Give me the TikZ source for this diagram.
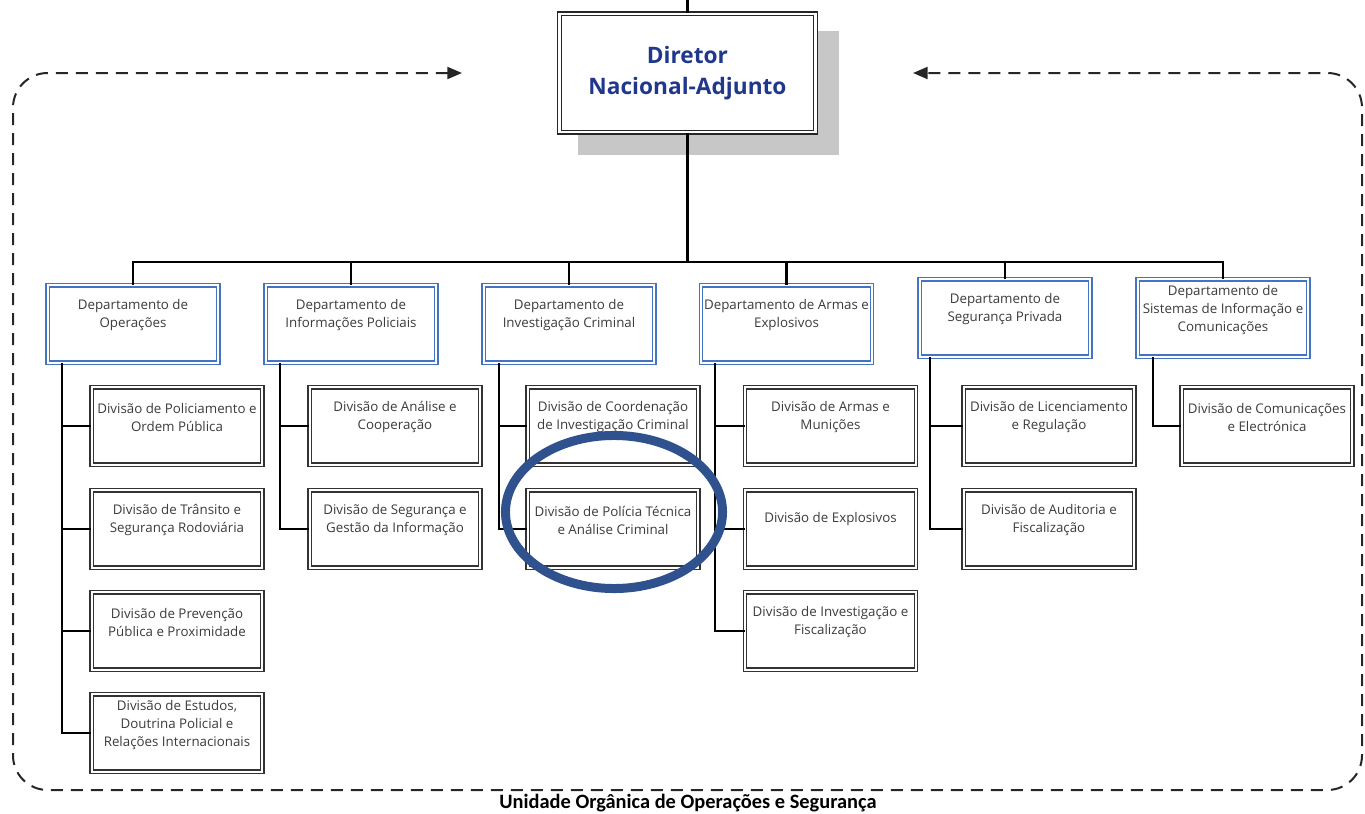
\documentclass[tikz,border=0pt]{standalone}
\usepackage{fontspec}
\setmainfont{Open Sans}
\newfontfamily\capfont{Carlito}
\usetikzlibrary{arrows.meta}

\definecolor{deptblue}{RGB}{68,114,196}
\definecolor{dirblue}{RGB}{32,56,140}
\definecolor{ringblue}{RGB}{47,82,143}
\definecolor{boxtext}{RGB}{60,60,60}

\tikzset{
  dirbox/.style={draw=black!85, double=white, double distance=1.6pt, line width=1.1pt,
    fill=white, minimum width=192pt, minimum height=89pt, inner sep=0pt, align=center,
    text=dirblue, font=\bfseries\fontsize{17}{23}\selectfont},
  deptbox/.style={draw=deptblue, double=white, double distance=1.5pt, line width=0.9pt,
    fill=white, minimum width=128pt, minimum height=58pt, inner sep=0pt},
  divbox/.style={draw=black!80, double=white, double distance=1.5pt, line width=0.9pt,
    fill=white, minimum width=128pt, minimum height=58pt, inner sep=0pt},
  boxtxt/.style={align=center, inner sep=0pt, text=boxtext,
    font=\fontsize{10}{13.5}\selectfont},
  link/.style={draw=black, line width=1.6pt},
  unitline/.style={draw=black!85, line width=1.5pt, dash pattern=on 9pt off 6pt,
    rounded corners=26pt, <->, >={Triangle[length=11pt,width=9pt]}},
  ring/.style={draw=ringblue, line width=6.75pt}
}

\begin{document}
\begin{tikzpicture}[x=0.75pt,y=-0.75pt]
  \useasboundingbox (0,0) rectangle (1365,814);

  \coordinate (loopL) at (462,73);
  \coordinate (loopR) at (913,73);
  \draw[unitline] (loopL) -| (13,790) -| (1362,73) -- (loopR);
  \node[font=\capfont\bfseries\fontsize{15.3}{17}\selectfont] (unit) at (688,803) {Unidade Orgânica de Operações e Segurança};

  \fill[black!22] (578,31) rectangle (839,155);
  \node[dirbox] (dir) at (687.5,73) {Diretor\\Nacional-Adjunto};

  \node[deptbox] (op) at (133,324) {};
  \node[boxtxt] (opt) at ([yshift=6.75pt]op.center) {Departamento de\\Operações};
  \node[deptbox] (ip) at (351,324) {};
  \node[boxtxt] (ipt) at ([yshift=6.75pt]ip.center) {Departamento de\\Informações Policiais};
  \node[deptbox] (ic) at (569,324) {};
  \node[boxtxt] (ict) at ([yshift=6.75pt]ic.center) {Departamento de\\Investigação Criminal};
  \node[deptbox] (ae) at (786.5,324) {};
  \node[boxtxt] (aet) at ([yshift=6.75pt]ae.center) {Departamento de Armas e\\Explosivos};
  \node[deptbox] (sp) at (1005,318) {};
  \node[boxtxt] (spt) at ([yshift=6.75pt]sp.center) {Departamento de\\Segurança Privada};
  \node[deptbox] (si) at (1223,318) {};
  \node[boxtxt] (sit) at ([yshift=6pt]si.center) {Departamento de\\Sistemas de Informação e\\Comunicações};

  \node[divbox] (op1) at (177,426) {};
  \node[boxtxt] (op1t) at ([yshift=6.75pt]op1.center) {Divisão de Policiamento e\\Ordem Pública};
  \node[divbox] (op2) at (177,529) {};
  \node[boxtxt] (op2t) at ([yshift=6.75pt]op2.center) {Divisão de Trânsito e\\Segurança Rodoviária};
  \node[divbox] (op3) at (177,631) {};
  \node[boxtxt] (op3t) at ([yshift=6.75pt]op3.center) {Divisão de Prevenção\\Pública e Proximidade};
  \node[divbox] (op4) at (177,733) {};
  \node[boxtxt] (op4t) at ([yshift=6pt]op4.center) {Divisão de Estudos,\\Doutrina Policial e\\Relações Internacionais};

  \node[divbox] (ip1) at (395,426) {};
  \node[boxtxt] (ip1t) at ([yshift=6.75pt]ip1.center) {Divisão de Análise e\\Cooperação};
  \node[divbox] (ip2) at (395,529) {};
  \node[boxtxt] (ip2t) at ([yshift=6.75pt]ip2.center) {Divisão de Segurança e\\Gestão da Informação};

  \node[divbox] (ic1) at (613,426) {};
  \node[boxtxt] (ic1t) at ([yshift=6.75pt]ic1.center) {Divisão de Coordenação\\de Investigação Criminal};
  \node[divbox] (ic2) at (613,529) {};
  \node[boxtxt] (ic2t) at ([yshift=6.75pt]ic2.center) {Divisão de Polícia Técnica\\e Análise Criminal};

  \node[divbox] (ae1) at (830.5,426) {};
  \node[boxtxt] (ae1t) at ([yshift=6.75pt]ae1.center) {Divisão de Armas e\\Munições};
  \node[divbox] (ae2) at (830.5,529) {};
  \node[boxtxt] (ae2t) at ([yshift=7.5pt]ae2.center) {Divisão de Explosivos};
  \node[divbox] (ae3) at (830.5,631) {};
  \node[boxtxt] (ae3t) at ([yshift=6.75pt]ae3.center) {Divisão de Investigação e\\Fiscalização};

  \node[divbox] (sp1) at (1049,426) {};
  \node[boxtxt] (sp1t) at ([yshift=6.75pt]sp1.center) {Divisão de Licenciamento\\e Regulação};
  \node[divbox] (sp2) at (1049,529) {};
  \node[boxtxt] (sp2t) at ([yshift=6.75pt]sp2.center) {Divisão de Auditoria e\\Fiscalização};

  \node[divbox] (si1) at (1267,426) {};
  \node[boxtxt] (si1t) at ([yshift=6.75pt]si1.center) {Divisão de Comunicações\\e Electrónica};

  \coordinate (top) at (687.5,0);
  \coordinate (bus) at (687.5,262);
  \draw[link] (top) -- (dir.north);
  \draw[link] (dir.south) -- (bus);
  \draw[link] (op.north) |- (bus) -| (si.north);
  \draw[link] (ip.north) -- (ip.north |- bus);
  \draw[link] (ic.north) -- (ic.north |- bus);
  \draw[link] (ae.north) -- (ae.north |- bus);
  \draw[link] (sp.north) -- (sp.north |- bus);

  \coordinate (opS) at ([xshift=11pt]op.south west);
  \coordinate (ipS) at ([xshift=11pt]ip.south west);
  \coordinate (icS) at ([xshift=12pt]ic.south west);
  \coordinate (aeS) at ([xshift=11pt]ae.south west);
  \coordinate (spS) at ([xshift=8pt]sp.south west);
  \coordinate (siS) at ([xshift=12pt]si.south west);
  \draw[link] (opS) |- (op4.west);
  \draw[link] (op1.west) -- (op1.west -| opS);
  \draw[link] (op2.west) -- (op2.west -| opS);
  \draw[link] (op3.west) -- (op3.west -| opS);
  \draw[link] (ipS) |- (ip2.west);
  \draw[link] (ip1.west) -- (ip1.west -| ipS);
  \draw[link] (icS) |- (ic2.west);
  \draw[link] (ic1.west) -- (ic1.west -| icS);
  \draw[link] (aeS) |- (ae3.west);
  \draw[link] (ae1.west) -- (ae1.west -| aeS);
  \draw[link] (ae2.west) -- (ae2.west -| aeS);
  \draw[link] (spS) |- (sp2.west);
  \draw[link] (sp1.west) -- (sp1.west -| spS);
  \draw[link] (siS) |- (si1.west);

  \draw[ring] (614,512) ellipse [x radius=81.4pt, y radius=57.4pt];
\end{tikzpicture}
\end{document}
